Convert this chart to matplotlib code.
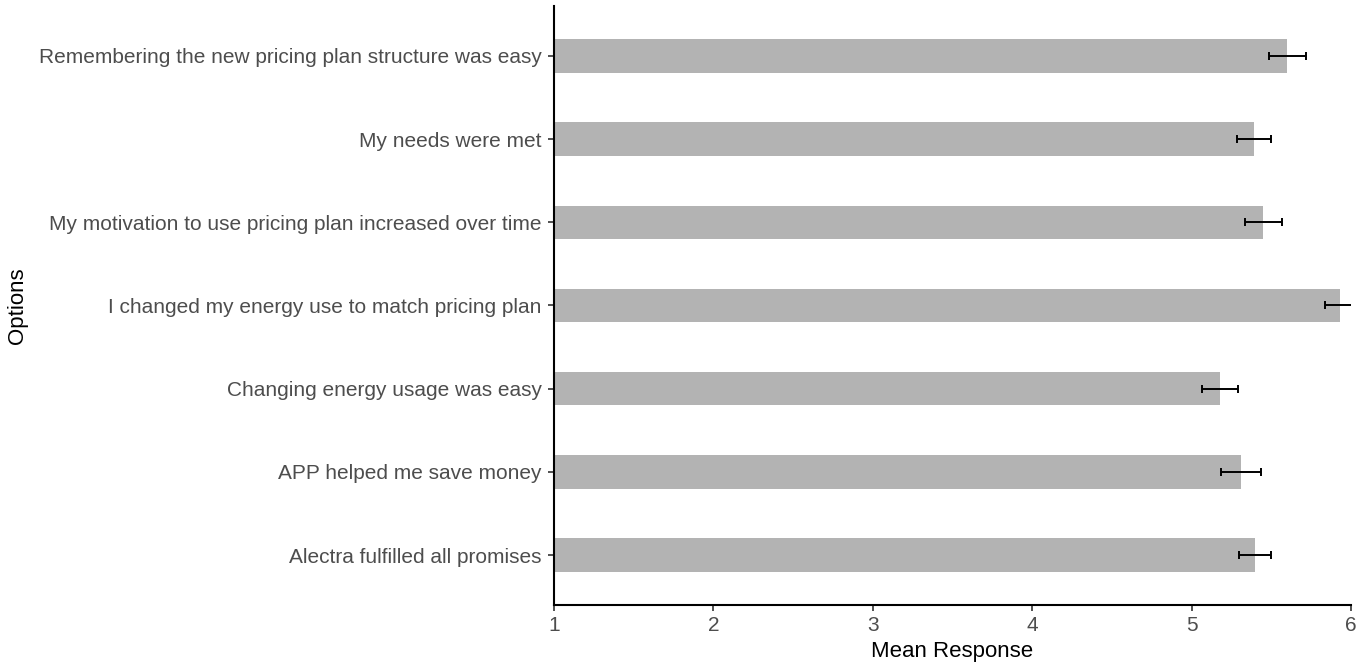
import matplotlib
matplotlib.use("Agg")
import matplotlib.pyplot as plt

# Survey statements (bottom to top) with mean response and standard error
options = [
    "Alectra fulfilled all promises",
    "APP helped me save money",
    "Changing energy usage was easy",
    "I changed my energy use to match pricing plan",
    "My motivation to use pricing plan increased over time",
    "My needs were met",
    "Remembering the new pricing plan structure was easy",
]
mean_response = [5.40, 5.31, 5.18, 5.93, 5.45, 5.39, 5.60]
std_error = [0.10, 0.125, 0.112, 0.092, 0.115, 0.105, 0.115]

plt.rcParams["font.family"] = ["Liberation Sans", "DejaVu Sans"]

fig = plt.figure(figsize=(13.72, 6.66), dpi=100)
ax = fig.add_axes([0.4038, 0.0916, 0.5809, 0.8994])

ypos = list(range(len(options)))
baseline = 1.0
widths = [m - baseline for m in mean_response]
ax.barh(ypos, widths, left=baseline, height=0.4, color="#b3b3b3", zorder=2)
ax.errorbar(mean_response, ypos, xerr=std_error, fmt="none", ecolor="black",
            elinewidth=1.4, capsize=2.6, capthick=1.4, zorder=3, clip_on=True)

ax.set_xlim(1, 6)
ax.set_ylim(-0.6, len(options) - 0.4)
ax.set_yticks(ypos)
ax.set_yticklabels(options)
ax.set_xticks([1, 2, 3, 4, 5, 6])

for side in ("top", "right"):
    ax.spines[side].set_visible(False)
for side in ("left", "bottom"):
    ax.spines[side].set_linewidth(1.5)
    ax.spines[side].set_color("black")

ax.tick_params(axis="both", length=4, width=1.2, color="#333333",
               labelcolor="#4d4d4d", labelsize=15)
ax.tick_params(axis="y", pad=5)
ax.tick_params(axis="x", pad=4)
ax.set_xlabel("Mean Response", fontsize=16, color="black", labelpad=4)
ax.set_ylabel("Options", fontsize=16, color="black")
ax.yaxis.set_label_coords(-0.66, 0.5)

fig.savefig("out.png", dpi=100, facecolor="white")
